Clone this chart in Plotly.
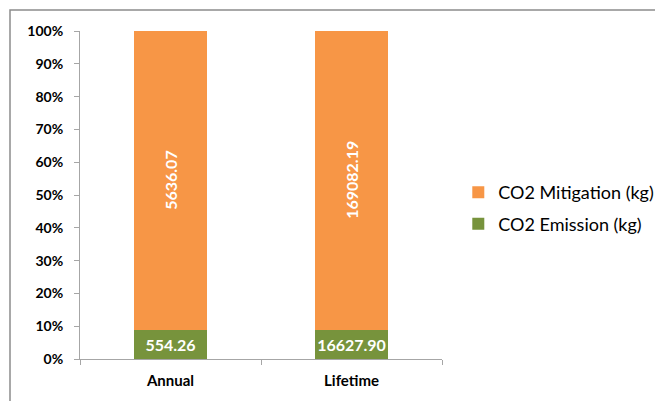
import plotly.graph_objects as go

categories = ["Annual", "Lifetime"]
emission_kg = [554.26, 16627.90]
mitigation_kg = [5636.07, 169082.19]
y_ticks = [0, 10, 20, 30, 40, 50, 60, 70, 80, 90, 100]
y_tick_labels = [f"{t}%" for t in y_ticks]

GREEN = "#77933C"
ORANGE = "#F79646"
FONT = "Lato"

fig = go.Figure()
fig.add_trace(go.Bar(
    x=categories, y=emission_kg, name="CO2 Emission (kg)",
    marker=dict(color=GREEN, line=dict(width=0)),
    text=[f"{v:.2f}" for v in emission_kg],
    textposition="inside", insidetextanchor="middle", textangle=0,
    constraintext="none",
    textfont=dict(family=FONT, size=16, color="white", weight="bold"),
    legendgroup="e", legendrank=2,
))
fig.add_trace(go.Bar(
    x=categories, y=mitigation_kg, name="CO2 Mitigation (kg)",
    marker=dict(color=ORANGE, line=dict(width=0)),
    legendgroup="m", legendrank=1,
))

# vertical value labels centred in each orange segment (percent scale)
for cat, e, m in zip(categories, emission_kg, mitigation_kg):
    total = e + m
    mid = (e + m / 2) / total * 100
    fig.add_annotation(
        x=cat, y=mid, text=f"{m:.2f}", textangle=-90, showarrow=False,
        font=dict(family=FONT, size=16, color="white", weight="bold"),
    )

fig.update_layout(
    width=655, height=401,
    barmode="stack", barnorm="percent", bargap=0.6,
    plot_bgcolor="white", paper_bgcolor="white",
    margin=dict(l=80, r=213, t=31, b=42, autoexpand=False),
    font=dict(family=FONT, color="black"),
    showlegend=True,
    legend=dict(
        x=1.045, y=0.46, xanchor="left", yanchor="middle",
        traceorder="grouped", tracegroupgap=5,
        font=dict(family=FONT, size=18, color="black"),
        bgcolor="rgba(0,0,0,0)",
    ),
    shapes=[dict(
        type="rect", xref="paper", yref="paper",
        x0=-70 / 362, x1=1.7, y0=-0.3, y1=1 + 21 / 328,
        line=dict(color="#8c8c8c", width=1.5), fillcolor="rgba(0,0,0,0)",
        layer="below",
    )],
)

fig.update_xaxes(
    showline=True, linecolor="#a6a6a6", linewidth=1,
    ticks="outside", tickson="boundaries", ticklen=5, tickcolor="#a6a6a6",
    ticklabelstandoff=8,
    tickfont=dict(family=FONT, size=15, color="black", weight="bold"),
    showgrid=False,
)
fig.update_yaxes(
    range=[0, 100], tickmode="array", tickvals=y_ticks, ticktext=y_tick_labels,
    showline=True, linecolor="#a6a6a6", linewidth=1,
    ticks="outside", ticklen=5, tickcolor="#a6a6a6",
    ticklabelstandoff=8,
    tickfont=dict(family=FONT, size=14, color="black", weight="bold"),
    showgrid=False, zeroline=False,
)

fig.write_html("out.html")
